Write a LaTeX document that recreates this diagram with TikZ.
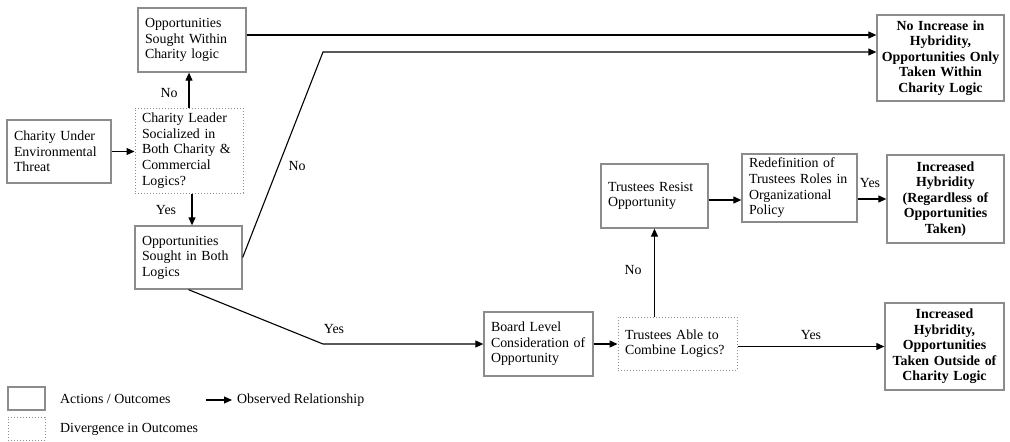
\documentclass[tikz,border=0pt]{standalone}
\usepackage{fontspec}
\setmainfont{Liberation Serif}
\usetikzlibrary{arrows.meta,calc}
\definecolor{boxgray}{RGB}{140,140,140}
\newcommand\dfont{\fontsize{13.9}{15.6}\selectfont}
\tikzset{
  box/.style={draw=boxgray, line width=1.3pt, rectangle, inner xsep=7pt, inner ysep=0pt, font=\dfont, align=left},
  divbox/.style={box, line width=1pt, dotted},
  outbox/.style={box, inner xsep=3pt, align=center, font=\dfont\bfseries},
  arr/.style={-{Triangle[length=8pt,width=7pt]}, line width=1.1pt},
  lbl/.style={font=\dfont, inner sep=0pt},
}
\begin{document}
\begin{tikzpicture}[x=1pt,y=-1pt]
\useasboundingbox (0,0) rectangle (1010,442);
% boxes
\node[box, text width=94pt, minimum height=64pt] (oppw) at (192,40) {Opportunities\\Sought Within\\Charity logic};
\node[box, text width=90pt, minimum height=63pt] (cu) at (59,151.5) {Charity Under\\Environmental\\Threat};
\node[divbox, text width=94pt, minimum height=85pt] (leader) at (189,150.5) {Charity Leader\\Socialized in\\Both Charity \&\\Commercial\\Logics?};
\node[box, text width=93pt, minimum height=63pt] (oppb) at (188.5,257.5) {Opportunities\\Sought in Both\\Logics};
\node[outbox, text width=121pt, minimum height=86pt] (noinc) at (940.5,58) {No Increase in\\Hybridity,\\Opportunities Only\\Taken Within\\Charity Logic};
\node[box, text width=93pt, minimum height=64pt] (tr) at (654.5,196) {Trustees Resist\\Opportunity};
\node[box, text width=101pt, minimum height=68pt] (redef) at (799.5,188) {Redefinition of\\Trustees Roles in\\Organizational\\Policy};
\node[outbox, text width=111pt, minimum height=88pt] (reg) at (945.5,199) {Increased\\Hybridity\\(Regardless of\\Opportunities\\Taken)};
\node[box, text width=95pt, minimum height=64pt] (board) at (538.5,344) {Board Level\\Consideration of\\Opportunity};
\node[divbox, text width=105pt, minimum height=53pt] (ta) at (677.5,343.5) {Trustees Able to\\Combine Logics?};
\node[outbox, text width=113pt, minimum height=87pt] (out) at (944.5,346.5) {Increased\\Hybridity,\\Opportunities\\Taken Outside of\\Charity Logic};
% bend points
\coordinate (k1) at (323,52);
\coordinate (k2) at (323,344);
% connectors
\draw[arr] (cu.east) -- (cu.east -| leader.west);
\draw[arr] (leader.north) -- (leader.north |- oppw.south);
\draw[arr] ([xshift=3pt]leader.south) -- ([xshift=3pt]leader.south |- oppb.north);
\draw[arr] ([yshift=5pt]oppw.east) -- ([yshift=5pt]oppw.east -| noinc.west);
\draw[arr] (oppb.east) -- (k1) -- (k1 -| noinc.west);
\draw[arr] (oppb.south) -- (k2) -- (k2 -| board.west);
\draw[arr] (board.east) -- (board.east -| ta.west);
\draw[arr] (ta.north -| tr.south) -- (tr.south);
\draw[arr] ([yshift=-4pt]tr.east) -- ([yshift=-4pt]tr.east -| redef.west);
\draw[arr] (reg.west -| redef.east) -- (reg.west);
\draw[arr] (out.west -| ta.east) -- (out.west);
% labels
\node[lbl] (l1) at (169,93) {No};
\node[lbl] (l2) at (166,210) {Yes};
\node[lbl] (l3) at (297,166) {No};
\node[lbl] (l4) at (334,329) {Yes};
\node[lbl] (l5) at (633,270) {No};
\node[lbl] (l6) at (870,183) {Yes};
\node[lbl] (l7) at (811,335) {Yes};
% legend
\node[box, minimum width=37pt, minimum height=23pt, inner sep=0pt] (lg1) at (26.5,398.5) {};
\node[divbox, minimum width=37pt, minimum height=23pt, inner sep=0pt] (lg2) at (26.5,428.5) {};
\node[lbl, anchor=west] (lt1) at (60,399) {Actions / Outcomes};
\node[lbl, anchor=west] (lt2) at (60,429) {Divergence in Outcomes};
\coordinate (la) at (206,400);
\coordinate (lb) at (232,400);
\node[lbl, anchor=west] (lt3) at (237,400) {Observed Relationship};
\draw[arr] (la) -- (lb);
\end{tikzpicture}
\end{document}
